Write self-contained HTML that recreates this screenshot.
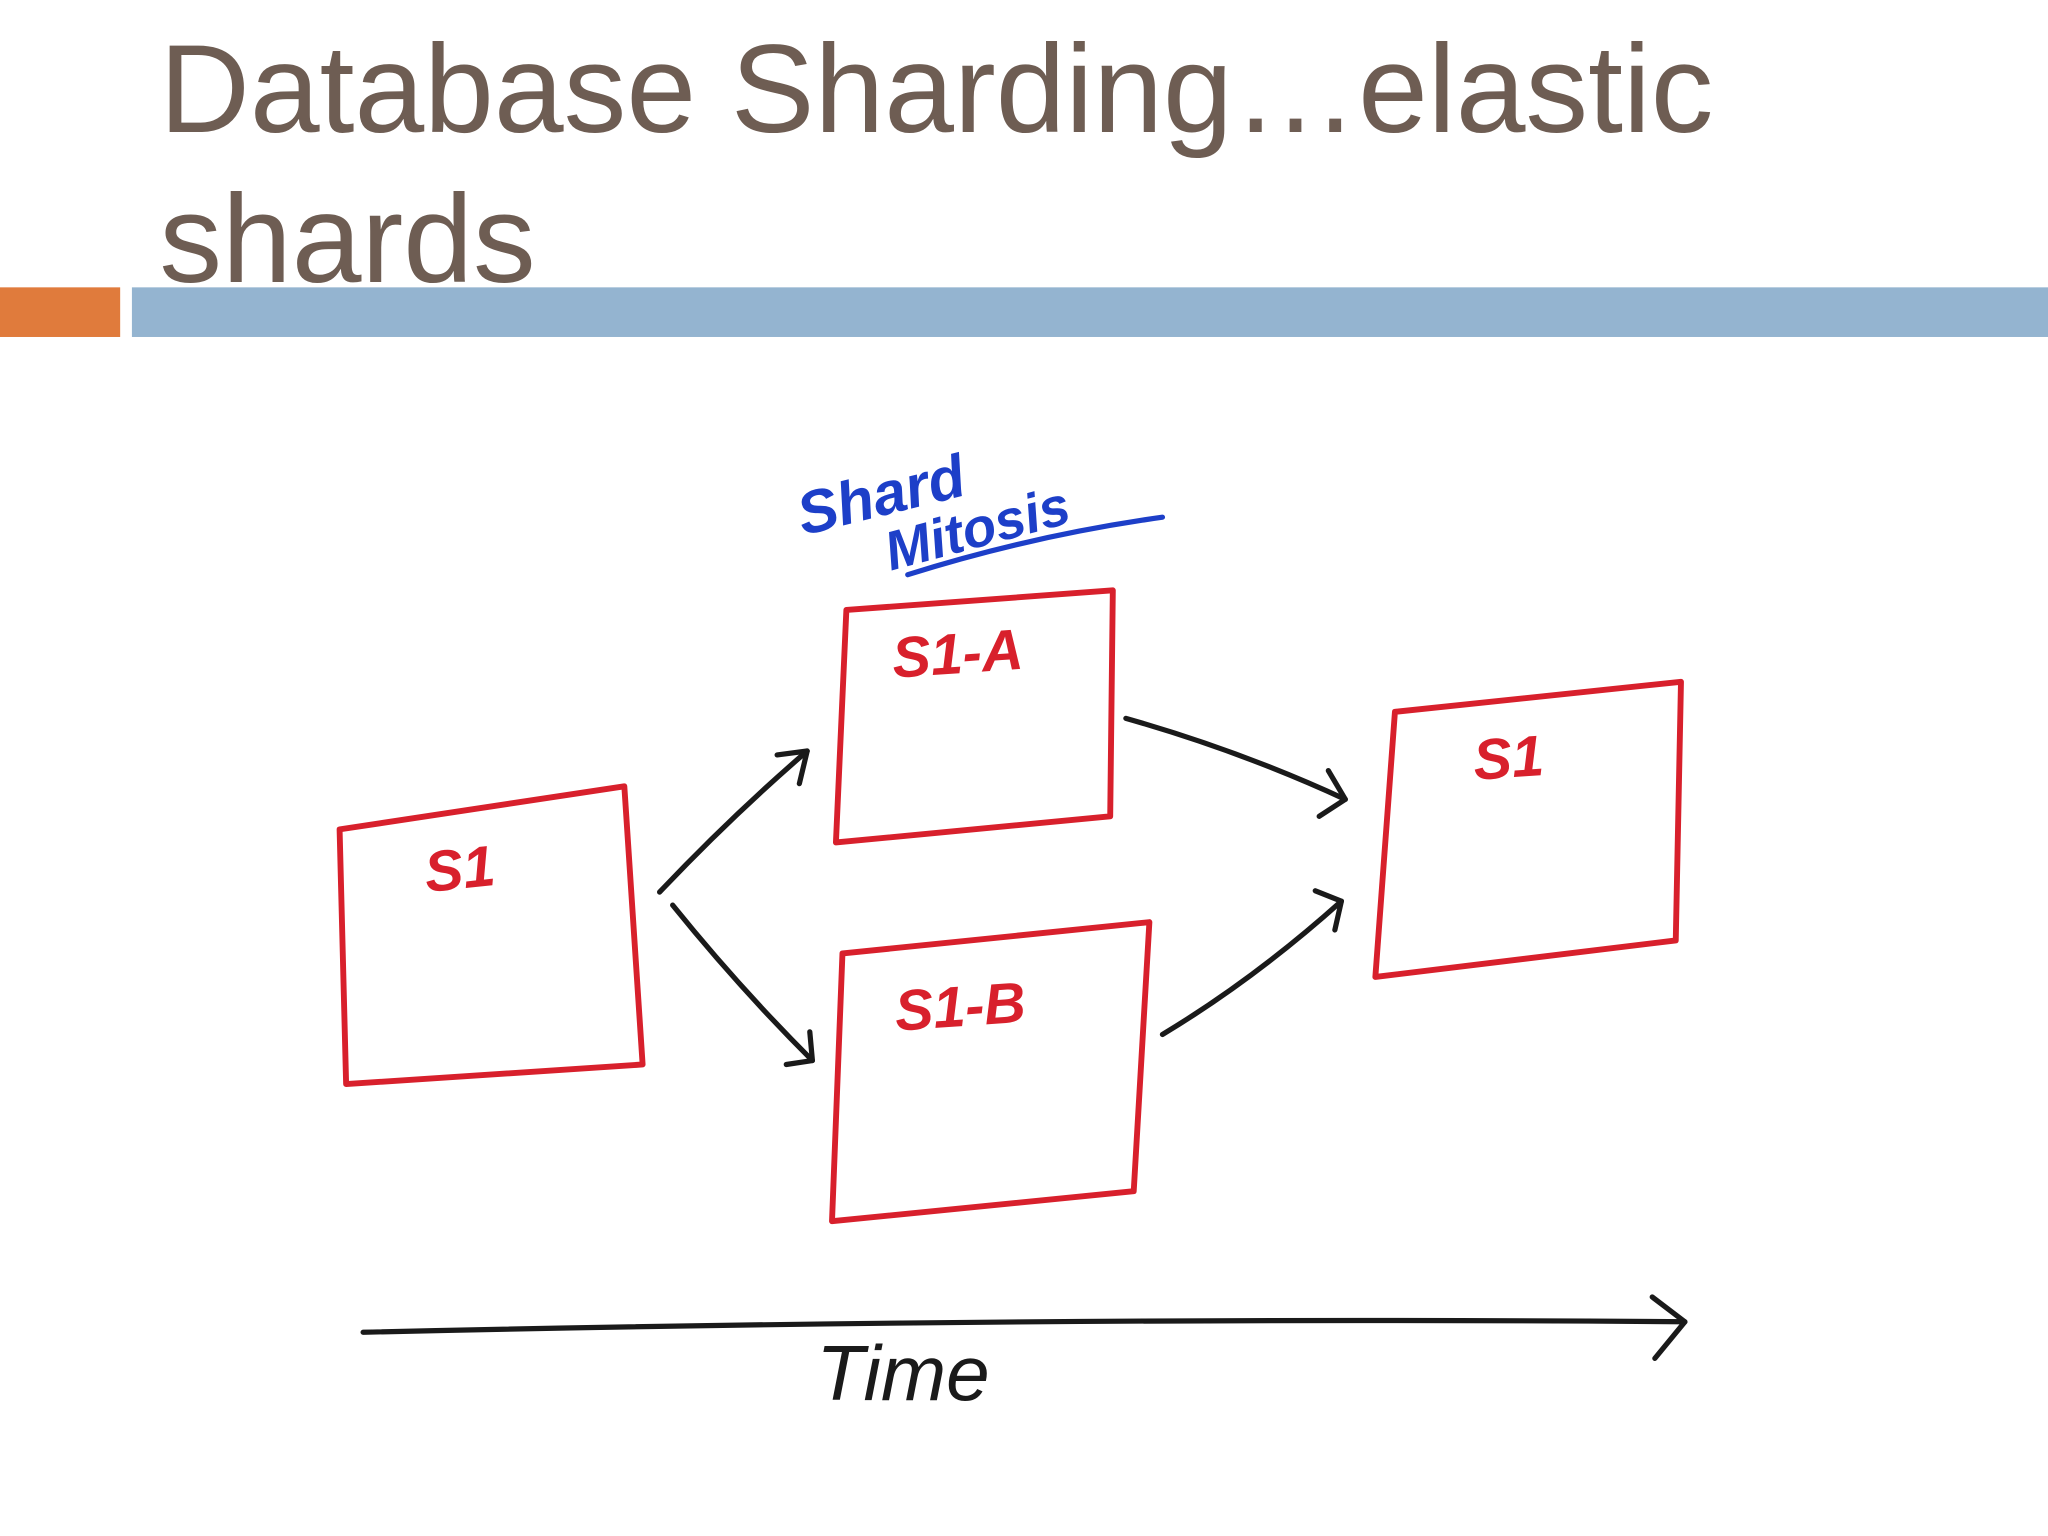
<!DOCTYPE html>
<html><head><meta charset="utf-8"><style>
html,body{margin:0;padding:0;background:#fff;}
svg{display:block;}
</style></head><body>
<svg width="2048" height="1536" viewBox="0 0 1568 1176" preserveAspectRatio="none" xmlns="http://www.w3.org/2000/svg">
<rect width="1568" height="1176" fill="#fff"/>
<text x="122" y="101" font-family="Liberation Sans, sans-serif" font-size="96" fill="#6e5d53">Database Sharding…elastic</text>
<text x="122" y="216" font-family="Liberation Sans, sans-serif" font-size="96" fill="#6e5d53">shards</text>
<rect x="0" y="220" width="92" height="38" fill="#e07b3c"/>
<rect x="101" y="220" width="1467" height="38" fill="#94b4d0"/>
<g fill="none" stroke="#d8202c" stroke-width="4.5" stroke-linejoin="round">
<polygon points="260,635 478,602 492,815 265,830"/>
<polygon points="648,467 852,452 850,625 640,645"/>
<polygon points="645,730 880,706 868,912 637,935"/>
<polygon points="1068,545 1287,522 1283,720 1053,748"/>
</g>
<g font-family="Liberation Sans, sans-serif" font-style="italic" font-weight="bold" fill="#d8202c" font-size="44">
<text x="325" y="680" transform="rotate(-6 355 665)">S1</text>
<text x="683" y="515" transform="rotate(-4 740 500)">S1-A</text>
<text x="685" y="785" transform="rotate(-4 745 770)">S1-B</text>
<text x="1128" y="595" transform="rotate(-4 1158 580)">S1</text>
</g>
<g fill="none" stroke="#1a1a1a" stroke-width="4" stroke-linecap="round" stroke-linejoin="round">
<path d="M505,683 Q560,625 618,575"/><path d="M595,578 L618,575 L612,600"/>
<path d="M515,693 Q565,755 622,812"/><path d="M602,815 L622,812 L620,790"/>
<path d="M862,550 Q950,575 1030,612"/><path d="M1017,590 L1030,612 L1010,625"/>
<path d="M890,792 Q960,750 1027,690"/><path d="M1007,682 L1027,690 L1022,712"/>
<path d="M278,1020 Q800,1008 1290,1012"/><path d="M1265,993 L1290,1012 L1267,1040"/>
</g>
<text x="625" y="1072" font-family="Liberation Sans, sans-serif" font-style="italic" font-size="60" fill="#1a1a1a">Time</text>
<g font-family="Liberation Sans, sans-serif" font-style="italic" font-weight="bold" fill="#1d3fc8">
<text x="615" y="410" font-size="46" transform="rotate(-14 615 410)">Shard</text>
<text x="682" y="437" font-size="42" transform="rotate(-15 682 437)">Mitosis</text>
</g>
<path d="M695,440 Q790,410 890,396" fill="none" stroke="#1d3fc8" stroke-width="4" stroke-linecap="round"/>
</svg>
</body></html>
